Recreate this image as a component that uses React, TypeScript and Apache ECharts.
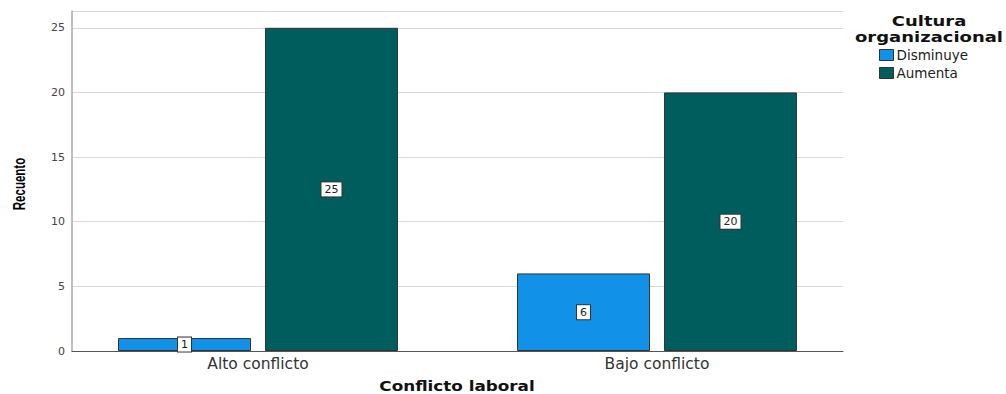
import React, { useEffect, useRef } from "react";
import * as echarts from "echarts";

const categories = ["Alto conflicto", "Bajo conflicto"];
const seriesNames = ["Disminuye", "Aumenta"];
const disminuye = [1, 6];
const aumenta = [25, 20];
const yTicks = [0, 5, 10, 15, 20, 25];

const colors = ["#1192e8", "#005d5d"];
const Y_MAX = 26.3;
const TOP = 11;
const BOTTOM = 394 - 351;
const FONT = "DejaVu Sans, Verdana, sans-serif";

export default function App() {
  const ref = useRef<HTMLDivElement>(null);

  useEffect(() => {
    if (!ref.current) return;
    const chart = echarts.init(ref.current, null, { renderer: "svg" });

    const labelStyle = {
      show: true,
      position: "inside" as const,
      color: "#222",
      fontFamily: FONT,
      fontSize: 11,
      backgroundColor: "#ffffff",
      borderColor: "#333",
      borderWidth: 1,
      padding: [2, 3, 1, 3],
    };

    chart.setOption({
      animation: false,
      color: colors,
      grid: [
        // frame grid: y axis, gridlines and baseline
        { left: 72, right: 1006 - 843, top: TOP, bottom: BOTTOM, outerBoundsMode: "none" },
        // bar grid: category bands
        { left: 58.5, width: 798, top: TOP, bottom: BOTTOM, outerBoundsMode: "none" },
      ],
      xAxis: [
        {
          type: "category",
          gridIndex: 0,
          data: categories,
          axisLine: { show: true, lineStyle: { color: "#555", width: 1 } },
          axisTick: { show: false },
          axisLabel: { show: false },
          splitLine: { show: false },
        },
        {
          type: "category",
          gridIndex: 1,
          data: categories,
          axisLine: { show: false },
          axisTick: { show: false },
          axisLabel: {
            show: true,
            color: "#333",
            fontFamily: FONT,
            fontSize: 15.5,
            margin: 5,
          },
        },
      ],
      yAxis: [
        {
          type: "value",
          gridIndex: 0,
          min: 0,
          max: Y_MAX,
          interval: 5,
          axisLine: { show: true, lineStyle: { color: "#aaa", width: 1.5 } },
          axisTick: { show: false },
          axisLabel: {
            color: "#444",
            fontFamily: FONT,
            fontSize: 11,
            margin: 7,
            formatter: (v: number) => (yTicks.includes(v) ? String(v) : ""),
          },
          splitLine: { show: true, lineStyle: { color: "#d9d9d9", width: 1 } },
        },
        {
          type: "value",
          gridIndex: 1,
          min: 0,
          max: Y_MAX,
          show: false,
          splitLine: { show: false },
        },
      ],
      legend: {
        orient: "vertical",
        left: 874,
        top: 43,
        icon: "rect",
        itemWidth: 14,
        itemHeight: 11,
        itemGap: 4,
        data: seriesNames,
        itemStyle: { borderColor: "#333", borderWidth: 1 },
        textStyle: {
          color: "#222",
          fontFamily: FONT,
          fontSize: 13.5,
          padding: [0, 0, 0, -2],
        },
      },
      graphic: [
        // legend title
        {
          type: "text",
          x: 929,
          y: 13,
          scaleX: 1.24,
          style: {
            text: "Cultura\norganizacional",
            align: "center",
            verticalAlign: "top",
            fill: "#111",
            fontFamily: FONT,
            fontSize: 14.5,
            fontWeight: "bold",
            lineHeight: 16,
          },
        },
        // x axis title
        {
          type: "text",
          x: 457,
          y: 386.5,
          scaleX: 1.2,
          style: {
            text: "Conflicto laboral",
            align: "center",
            verticalAlign: "middle",
            fill: "#111",
            fontFamily: FONT,
            fontSize: 14,
            lineHeight: 14,
            fontWeight: "bold",
          },
        },
        // y axis title
        {
          type: "text",
          x: 19,
          y: 184,
          rotation: Math.PI / 2,
          scaleX: 0.72,
          style: {
            text: "Recuento",
            align: "center",
            verticalAlign: "middle",
            fill: "#000",
            fontFamily: "Liberation Sans, Arial, sans-serif",
            fontSize: 16,
            fontWeight: "bold",
          },
        },
      ],
      series: [
        {
          name: seriesNames[0],
          type: "bar",
          xAxisIndex: 1,
          yAxisIndex: 1,
          data: disminuye,
          barWidth: 133,
          barGap: "10.5%",
          itemStyle: { color: colors[0], borderColor: "#333", borderWidth: 1 },
          label: labelStyle,
        },
        {
          name: seriesNames[1],
          type: "bar",
          xAxisIndex: 1,
          yAxisIndex: 1,
          data: aumenta,
          barWidth: 133,
          barGap: "10.5%",
          itemStyle: { color: colors[1], borderColor: "#333", borderWidth: 1 },
          label: labelStyle,
        },
      ],
    });

    return () => chart.dispose();
  }, []);

  return (
    <div
      ref={ref}
      style={{ position: "fixed", left: 0, top: 0, width: 1006, height: 394, background: "#fff" }}
    />
  );
}
